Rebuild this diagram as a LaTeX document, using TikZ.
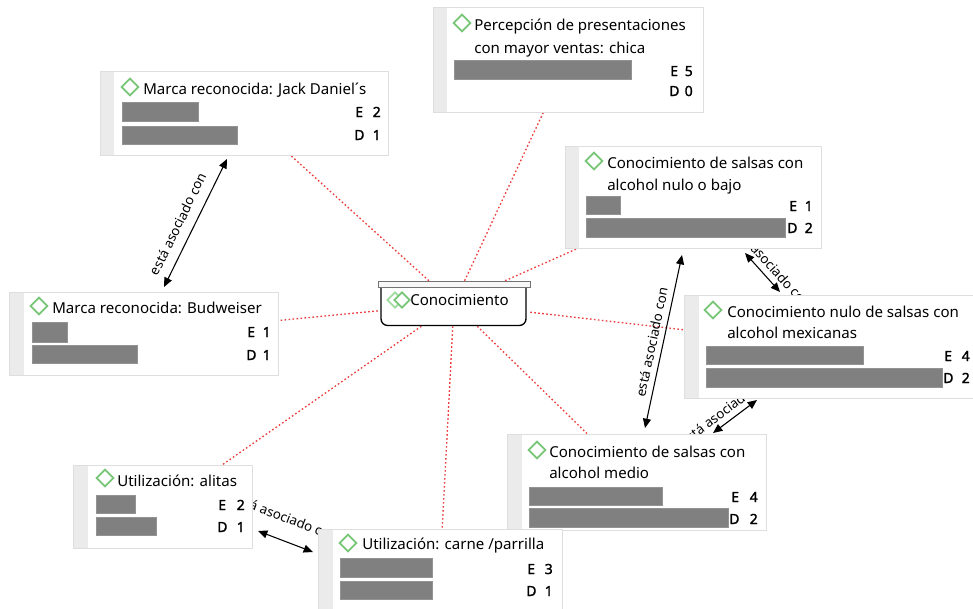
\documentclass[tikz,border=0pt]{standalone}
\usepackage{fontspec}
\setmainfont{Noto Sans}
\newfontfamily\edfont{Noto Sans}[FakeBold=1.6]
\usetikzlibrary{arrows.meta,shapes.geometric,fit,backgrounds}
\definecolor{boxc}{RGB}{222,222,222}
\definecolor{stripc}{RGB}{235,235,235}
\definecolor{barc}{RGB}{128,128,128}
\definecolor{iconc}{RGB}{118,198,118}
\definecolor{iconl}{RGB}{160,220,160}
\definecolor{relc}{RGB}{238,60,60}
\tikzset{
  qbox/.style={draw=boxc, fill=white, inner sep=0pt, line width=0.7pt},
  barbox/.style={fill=barc, draw=barc!85!white, line width=0.3pt},
  icon/.style={diamond, draw=iconc, fill=white, line width=1.3pt, minimum width=13pt, minimum height=13pt, inner sep=0pt},
  ttl/.style={anchor=base west, inner sep=0pt, font=\fontsize{11.3}{13}\selectfont},
  edl/.style={anchor=base west, inner sep=0pt, font=\fontsize{10.5}{12}\selectfont\edfont},
  num/.style={anchor=base east, inner sep=0pt, font=\fontsize{10.5}{12}\selectfont\edfont},
  rel/.style={draw=relc, line width=1pt, dash pattern=on 1.2pt off 1.8pt},
  assoc/.style={draw=black, line width=0.8pt, {Triangle[length=7pt,width=6pt]}-{Triangle[length=7pt,width=6pt]}},
  lbl/.style={font=\fontsize{10}{11}\selectfont, inner sep=0pt},
}
% name, left, top, right, bottom, stripright
\newcommand\qcard[6]{%
  \node[qbox, fit={(#2,#3)(#4,#5)}] (#1) {};
  \fill[stripc] (#2+0.5,#3+0.5) rectangle (#6,#5-0.5);}
\begin{document}
\begin{tikzpicture}[x=0.75pt,y=-0.75pt]
\useasboundingbox (0,0) rectangle (973,608);

% ---------- cards ----------
% b1 Percepcion
\qcard{b1}{433}{7}{703}{112}{447}
\node[icon] (i1) at (462,23) {};
\node[ttl] (t1a) at (474,30) {Percepción de presentaciones};
\node[ttl] (t1b) at (474,53) {con mayor ventas: chica};
\node[barbox, fit={(454,60)(631,79)}, inner sep=0pt] (r1a) {};
\node[edl] (e1) at (670,76) {E};
\node[num] (n1) at (693,76) {5};
\node[edl] (d1) at (669,96) {D};
\node[num] (m1) at (693,96) {0};

% b2 Jack Daniel's
\qcard{b2}{100}{71}{388}{155}{114}
\node[icon] (i2) at (130,87) {};
\node[ttl] (t2) at (143,94) {Marca reconocida: Jack Daniel´s};
\node[barbox, fit={(122,102)(198,121)}, inner sep=0pt] (r2a) {};
\node[barbox, fit={(122,126)(237,144)}, inner sep=0pt] (r2b) {};
\node[edl] (e2) at (355,117) {E};
\node[num] (n2) at (381,117) {2};
\node[edl] (d2) at (354,140) {D};
\node[num] (m2) at (381,140) {1};

% b3 salsas nulo o bajo
\qcard{b3}{565}{146}{821}{248}{579}
\node[icon] (i3) at (594,161) {};
\node[ttl] (t3a) at (607,168) {Conocimiento de salsas con};
\node[ttl] (t3b) at (607,190) {alcohol nulo o bajo};
\node[barbox, fit={(586,196)(620,214)}, inner sep=0pt] (r3a) {};
\node[barbox, fit={(586,218)(785,237)}, inner sep=0pt] (r3b) {};
\node[edl] (e3) at (789,211) {E};
\node[num] (n3) at (813,211) {1};
\node[edl] (d3) at (787,233) {D};
\node[num] (m3) at (813,233) {2};

% b4 nulo mexicanas
\qcard{b4}{684}{295}{978}{398}{699}
\node[icon] (i4) at (713,310) {};
\node[ttl] (t4a) at (727,317) {Conocimiento nulo de salsas con};
\node[ttl] (t4b) at (727,338) {alcohol mexicanas};
\node[barbox, fit={(706,346)(863,364)}, inner sep=0pt] (r4a) {};
\node[barbox, fit={(706,368)(942,387)}, inner sep=0pt] (r4b) {};
\node[edl] (e4) at (944,361) {E};
\node[num] (n4) at (970,361) {4};
\node[edl] (d4) at (943,383) {D};
\node[num] (m4) at (970,383) {2};

% b5 alcohol medio
\qcard{b5}{507}{434}{766}{530}{522}
\node[icon] (i5) at (537,450) {};
\node[ttl] (t5a) at (549,457) {Conocimiento de salsas con};
\node[ttl] (t5b) at (549,478) {alcohol medio};
\node[barbox, fit={(529,487)(662,505)}, inner sep=0pt] (r5a) {};
\node[barbox, fit={(529,508)(728,527)}, inner sep=0pt] (r5b) {};
\node[edl] (e5) at (731,502) {E};
\node[num] (n5) at (758,502) {4};
\node[edl] (d5) at (729,524) {D};
\node[num] (m5) at (758,524) {2};

% b6 alitas
\qcard{b6}{73}{465}{252}{548}{88}
\node[icon] (i6) at (105,478) {};
\node[ttl] (t6) at (117,486) {Utilización: alitas};
\node[barbox, fit={(96,495)(135,513)}, inner sep=0pt] (r6a) {};
\node[barbox, fit={(96,517)(156,535)}, inner sep=0pt] (r6b) {};
\node[edl] (e6) at (218,510) {E};
\node[num] (n6) at (245,510) {2};
\node[edl] (d6) at (217,532) {D};
\node[num] (m6) at (245,532) {1};

% b7 carne
\qcard{b7}{318}{529}{562}{612}{333}
\node[icon] (i7) at (348,543) {};
\node[ttl] (t7) at (362,549) {Utilización: carne /parrilla};
\node[barbox, fit={(340,558)(432,577)}, inner sep=0pt] (r7a) {};
\node[barbox, fit={(340,581)(432,599)}, inner sep=0pt] (r7b) {};
\node[edl] (e7) at (527,574) {E};
\node[num] (n7) at (553,574) {3};
\node[edl] (d7) at (526,596) {D};
\node[num] (m7) at (553,596) {1};

% b8 Budweiser
\qcard{b8}{9}{292}{278}{375}{24}
\node[icon] (i8) at (39,306) {};
\node[ttl] (t8) at (52,313) {Marca reconocida: Budweiser};
\node[barbox, fit={(32,322)(67,342)}, inner sep=0pt] (r8a) {};
\node[barbox, fit={(32,345)(137,363)}, inner sep=0pt] (r8b) {};
\node[edl] (e8) at (247,337) {E};
\node[num] (n8) at (271,337) {1};
\node[edl] (d8) at (246,360) {D};
\node[num] (m8) at (271,360) {1};

% ---------- central node ----------
\node[fit={(378,281)(530,326)}, inner sep=0pt] (cn) {};
\fill[white] (381,287) rectangle (526,325.5);
\draw[black, line width=1pt, rounded corners=5pt] (381,287) -- (381,325.5) -- (526,325.5) -- (526,287);
\draw[draw=black!55, fill=black!3, line width=0.7pt] (378,281) rectangle (530,287);
\node[icon, draw=iconl, minimum width=12pt, minimum height=12pt, line width=1.3pt] (ci1) at (395,300) {};
\node[icon, minimum width=12pt, minimum height=12pt, line width=1.3pt] (ci2) at (402,300) {};
\node[ttl] (ct) at (410,305) {Conocimiento};

% ---------- background: relations, arrows, labels ----------
\begin{scope}[on background layer]
\fill[white] (0,0) rectangle (973,608);
\foreach \b in {b1,b2,b3,b4,b5,b6,b7,b8} \draw[rel] (cn) -- (\b);

\coordinate (a1s) at (164,287); \coordinate (a1e) at (227,159);
\coordinate (a2s) at (645,428); \coordinate (a2e) at (682,255);
\coordinate (a3s) at (745,253); \coordinate (a3e) at (780,292);
\coordinate (a4s) at (713,433); \coordinate (a4e) at (757,400);
\coordinate (a5s) at (258,531); \coordinate (a5e) at (313,552);
\draw[assoc] (a1s) -- (a1e);
\draw[assoc] (a2s) -- (a2e);
\draw[assoc] (a3s) -- (a3e);
\draw[assoc] (a4s) -- (a4e);
\draw[assoc] (a5s) -- (a5e);
\node[lbl, rotate=63.8] (l1) at (178,224) {está asociado con};
\node[lbl, rotate=78] (l2) at (652,342) {está asociado con};
\node[lbl, rotate=-48] (l3) at (771,265) {está asociado con};
\node[lbl, rotate=37] (l4) at (726,409) {está asociado con};
\node[lbl, rotate=-21] (l5) at (285,517) {está asociado con};
\end{scope}
\end{tikzpicture}
\end{document}
